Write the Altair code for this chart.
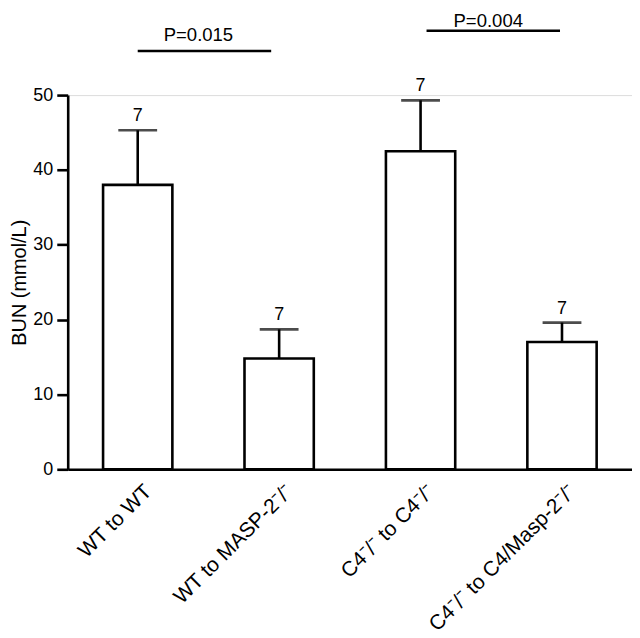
import altair as alt
import pandas as pd

groups = ["WT to WT", "WT to MASP-2⁻/⁻", "C4⁻/⁻ to C4⁻/⁻", "C4⁻/⁻ to C4/Masp-2⁻/⁻"]
means = [38.0, 14.8, 42.5, 17.0]
upper = [45.3, 18.7, 49.3, 19.6]
n_labels = ["7", "7", "7", "7"]

comp_start = [groups[0], groups[2]]
comp_end = [groups[1], groups[3]]
comp_y = [55.9, 58.6]
comp_text = ["P=0.015", "P=0.004"]

y_ticks = [0, 10, 20, 30, 40, 50]

FONT = "Liberation Sans"
SW = 2.6

df = pd.DataFrame({"group": groups, "mean": means, "upper": upper, "n": n_labels})

xscale = alt.Scale(domain=groups, paddingInner=0.51, paddingOuter=0.25)
x_enc = alt.X(
    "group:N",
    sort=groups,
    scale=xscale,
    axis=alt.Axis(
        title=None,
        ticks=False,
        tickSize=0,
        labelAngle=-45,
        labelAlign="right",
        labelBaseline="top",
        labelFontSize=21,
        labelPadding=11,
        labelOffset=3,
        labelLimit=0,
        domainColor="black",
        domainWidth=SW,
        labelColor="black",
        labelFont=FONT,
    ),
)
y_enc = alt.Y(
    "mean:Q",
    scale=alt.Scale(domain=[0, 50], nice=False, zero=True),
    axis=alt.Axis(
        title="BUN (mmol/L)",
        values=y_ticks,
        grid=False,
        domainColor="black",
        domainWidth=SW,
        tickColor="black",
        tickWidth=SW,
        tickSize=11,
        labelColor="black",
        labelFontSize=18,
        labelPadding=4,
        labelFont=FONT,
        titleFont=FONT,
        titleFontSize=20,
        titleFontWeight="normal",
        titleColor="black",
        titleX=-38,
        titleBaseline="bottom",
    ),
)

base = alt.Chart(df)

bars = base.mark_bar(fill="white", stroke="black", strokeWidth=SW).encode(x=x_enc, y=y_enc)

err = base.mark_rule(color="black", strokeWidth=SW).encode(
    x=alt.X("group:N", sort=groups),
    y="mean:Q",
    y2="upper:Q",
)

caps = base.mark_tick(color="black", thickness=SW, size=39).encode(
    x=alt.X("group:N", sort=groups),
    y="upper:Q",
)

nlab = base.mark_text(font=FONT, fontSize=18, color="black", baseline="alphabetic", dy=-9).encode(
    x=alt.X("group:N", sort=groups),
    y="upper:Q",
    text="n:N",
)

comp_layers = []
line_offsets = [(0, -8), (6, -2)]
text_dx = [61, 68]
text_dy = [-10, -3.5]
for i in range(len(comp_text)):
    cdf = pd.DataFrame(
        {"start": [comp_start[i]], "end": [comp_end[i]], "y": [comp_y[i]], "label": [comp_text[i]]}
    )
    c = alt.Chart(cdf)
    line = c.mark_rule(
        color="black", strokeWidth=SW, xOffset=line_offsets[i][0], x2Offset=line_offsets[i][1]
    ).encode(
        x=alt.X("start:N", sort=groups),
        x2="end:N",
        y="y:Q",
    )
    txt = c.mark_text(
        font=FONT, fontSize=18.6, color="black", baseline="alphabetic", dx=text_dx[i], dy=text_dy[i]
    ).encode(
        x=alt.X("start:N", sort=groups),
        y="y:Q",
        text="label:N",
    )
    comp_layers += [line, txt]

chart = (
    alt.layer(bars, err, caps, nlab, *comp_layers)
    .properties(
        width=567,
        height=376,
        autosize=alt.AutoSizeParams(type="none"),
        padding={"left": 60, "top": 86, "right": 0, "bottom": 168},
    )
    .configure_view(stroke=None)
    .configure(font=FONT)
)

chart.save("out.html", embed_options={"renderer": "svg", "actions": False})
